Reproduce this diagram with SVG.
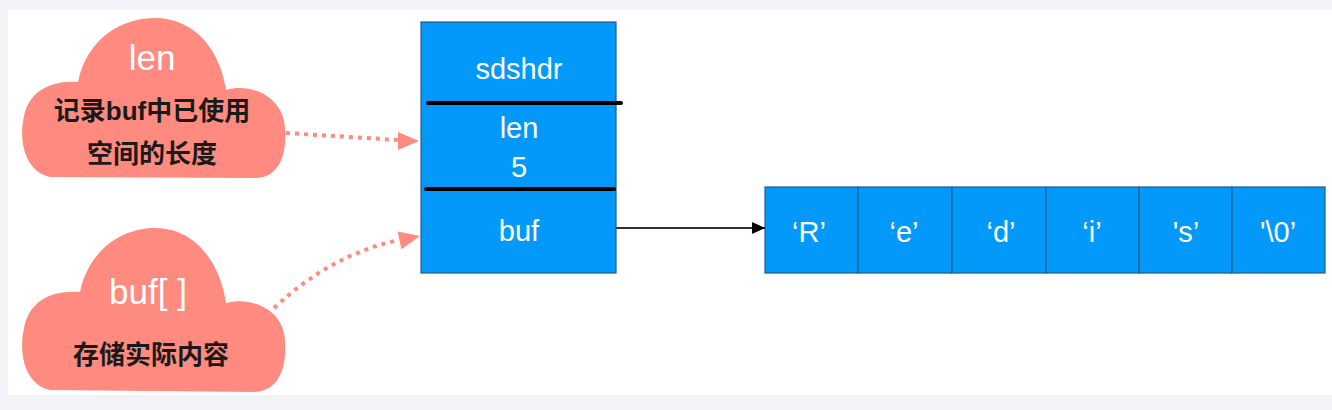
<svg xmlns="http://www.w3.org/2000/svg" width="1332" height="410" viewBox="0 0 1332 410">
<defs>
<style>
.cloud{fill:#fe8a80}
.blue{fill:#0399fb;stroke:#1f5d8a;stroke-width:1.2}
.wt{font-family:"Liberation Sans",Arial,sans-serif;fill:#ffffff;text-anchor:middle;font-size:29px}
.ct{font-family:"Liberation Sans","Noto Sans CJK SC",sans-serif;fill:#ffffff;text-anchor:middle;font-size:35px}
.cn{font-family:"Liberation Sans","Noto Sans CJK SC",sans-serif;fill:#1a1a1a;text-anchor:middle;font-size:26px;font-weight:bold}
.dot{fill:none;stroke:#fe8a80;stroke-width:4;stroke-dasharray:4 5}
.head{fill:#fe8a80}
.sep{stroke:#000;stroke-width:4;stroke-linecap:round}
</style>
<marker id="ba" markerWidth="14" markerHeight="12" refX="13" refY="6" orient="auto" markerUnits="userSpaceOnUse">
<path d="M0,0 L13,6 L0,12 Z" fill="#000"/>
</marker>
</defs>
<rect x="0" y="0" width="1332" height="410" fill="#f2f3f7"/>
<rect x="8" y="10" width="1324" height="385" fill="#ffffff"/>

<g id="cloud-len">
<path class="cloud" d="M50,177 C26,172 18,142 24,116 C29,92 50,80 78,82 C86,42 118,18 155,18 C195,18 220,50 226,90 C255,82 285,100 285,130 C287,160 276,178 255,178 Z"/>
<text class="ct" x="152" y="70">len</text>
<text class="cn" x="152" y="120">记录buf中已使用</text>
<text class="cn" x="152" y="163">空间的长度</text>
</g>

<g id="cloud-buf">
<path class="cloud" d="M50,390 C26,385 18,355 24,328 C29,302 50,290 80,292 C88,252 120,228 155,228 C195,228 220,262 226,303 C255,296 285,312 285,342 C287,372 276,391 255,392 Z"/>
<text class="ct" x="148" y="304">buf[ ]</text>
<text class="cn" x="151" y="364">存储实际内容</text>
</g>

<g id="sdshdr">
<rect class="blue" x="421" y="22" width="195" height="251"/>
<line class="sep" x1="428" y1="103" x2="621" y2="103"/>
<line class="sep" x1="426" y1="189" x2="614" y2="189"/>
<text class="wt" x="519" y="79">sdshdr</text>
<text class="wt" x="519" y="138">len</text>
<text class="wt" x="519" y="177">5</text>
<text class="wt" x="519" y="241">buf</text>
</g>

<g id="array">
<rect class="blue" x="765" y="187" width="93" height="86"/>
<rect class="blue" x="858" y="187" width="94" height="86"/>
<rect class="blue" x="952" y="187" width="94" height="86"/>
<rect class="blue" x="1046" y="187" width="93" height="86"/>
<rect class="blue" x="1139" y="187" width="93" height="86"/>
<rect class="blue" x="1232" y="187" width="93" height="86"/>
<text class="wt" x="809" y="242">‘R’</text>
<text class="wt" x="904" y="242">‘e’</text>
<text class="wt" x="1001" y="242">‘d’</text>
<text class="wt" x="1092" y="242">‘i’</text>
<text class="wt" x="1186" y="242">'s’</text>
<text class="wt" x="1278" y="242">'\0’</text>
</g>

<g id="connectors">
<path class="dot" d="M286,133 L398,140"/>
<polygon class="head" points="398,132 419,141 398,150"/>
<path class="dot" d="M274,308 Q330,255 399,240"/>
<polygon class="head" points="397.6,231.6 420,236 401.4,249.2"/>
<line x1="616" y1="228" x2="765" y2="228" stroke="#333" stroke-width="2" marker-end="url(#ba)"/>
</g>
</svg>
